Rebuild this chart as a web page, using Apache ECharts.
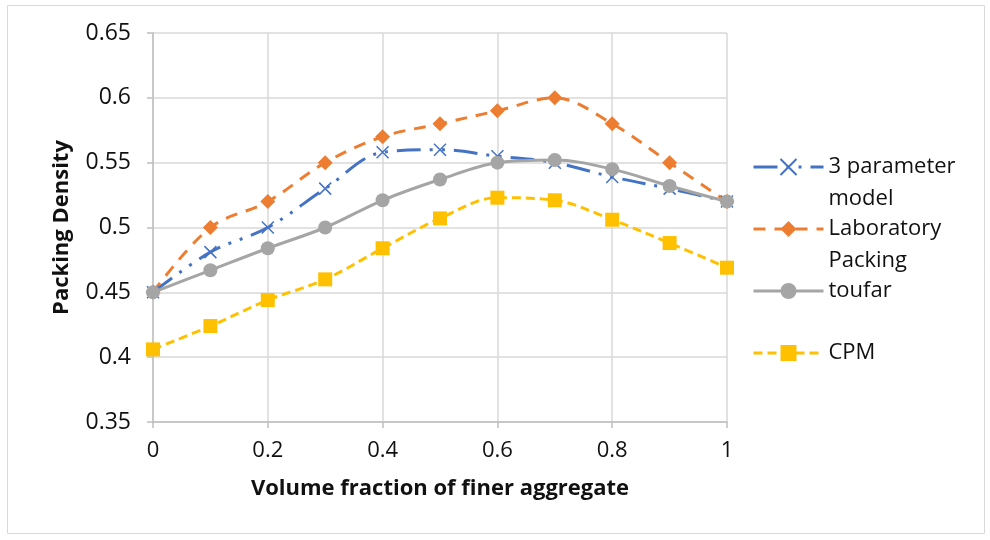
<!DOCTYPE html>
<html>
<head>
<meta charset="utf-8">
<script src="https://cdn.jsdelivr.net/npm/echarts@6/dist/echarts.min.js"></script>
<style>
  html, body { margin: 0; padding: 0; background: #fff; }
  #canvas { width: 990px; height: 540px; }
</style>
</head>
<body>
<div id="canvas"></div>
<script>
// volume fraction of finer aggregate
var fractions = [0, 0.1, 0.2, 0.3, 0.4, 0.5, 0.6, 0.7, 0.8, 0.9, 1];
var threeParam = [0.45, 0.481, 0.50, 0.53, 0.558, 0.56, 0.555, 0.55, 0.539, 0.53, 0.52];
var laboratory = [0.45, 0.50, 0.52, 0.55, 0.57, 0.58, 0.59, 0.60, 0.58, 0.55, 0.52];
var toufar = [0.45, 0.467, 0.484, 0.50, 0.521, 0.537, 0.55, 0.552, 0.545, 0.532, 0.52];
var cpm = [0.406, 0.424, 0.444, 0.46, 0.484, 0.507, 0.523, 0.521, 0.506, 0.488, 0.469];
var seriesNames = ['3 parameter model', 'Laboratory Packing', 'toufar', 'CPM'];
// legend text wraps like the original; blank first line keeps the first word level with the icon
var legendText = {
    '3 parameter model': ' \n3 parameter\nmodel',
    'Laboratory Packing': ' \nLaboratory\nPacking',
    'toufar': ' \ntoufar\n ',
    'CPM': ' \nCPM\n '
};

function pairs(ys){
    var out = [];
    for(var i=0;i<fractions.length;i++){
        out.push([fractions[i], ys[i]]);
    }
    return out;
}

var font = '"Open Sans", "Liberation Sans", sans-serif';
var myChart = echarts.init(document.getElementById('canvas'));

myChart.setOption({
    backgroundColor: '#fff',
    animation: false,
    textStyle: { fontFamily: font },
    graphic: [{
        type: 'rect',
        shape: { x: 7.5, y: 5.5, width: 977, height: 528 },
        style: { fill: 'none', stroke: '#d9d9d9', lineWidth: 1 },
        silent: true
    }],
    grid: { left: 153, right: 263, top: 33, bottom: 118 },
    legend: {
        orient: 'vertical',
        left: 747,
        top: 114,
        itemWidth: 70,
        itemHeight: 20,
        itemGap: -34,
        data: seriesNames,
        lineStyle: { width: 3 },
        formatter: function(name){ return legendText[name]; },
        textStyle: {
            fontFamily: font,
            fontSize: 22,
            color: '#111',
            lineHeight: 32
        }
    },
    xAxis: {
        type: 'value',
        min: 0,
        max: 1,
        interval: 0.2,
        name: 'Volume fraction of finer aggregate',
        nameLocation: 'middle',
        nameGap: 56,
        nameTextStyle: { fontFamily: font, fontSize: 22, fontWeight: 'bold', color: '#111' },
        axisLine: { lineStyle: { color: '#bfbfbf', width: 1.5 } },
        axisTick: { show: true, length: 6, lineStyle: { color: '#bfbfbf', width: 1.5 } },
        axisLabel: { fontFamily: font, fontSize: 22, color: '#111', margin: 18 },
        splitLine: { show: true, lineStyle: { color: '#d9d9d9', width: 1.5 } }
    },
    yAxis: {
        type: 'value',
        min: 0.35,
        max: 0.65,
        interval: 0.05,
        name: 'Packing Density',
        nameLocation: 'middle',
        nameGap: 80,
        nameTextStyle: { fontFamily: font, fontSize: 22, fontWeight: 'bold', color: '#111' },
        axisLine: { show: true, lineStyle: { color: '#bfbfbf', width: 1.5 } },
        axisTick: { show: true, length: 6, lineStyle: { color: '#bfbfbf', width: 1.5 } },
        axisLabel: { fontFamily: font, fontSize: 23, color: '#111', margin: 22 },
        splitLine: { show: true, lineStyle: { color: '#d9d9d9', width: 1.5 } }
    },
    series: [
        {
            name: seriesNames[0],
            type: 'line',
            smooth: 0.35,
            data: pairs(threeParam),
            symbol: 'path://M0,0L10,10M10,0L0,10',
            symbolSize: 12,
            itemStyle: { color: '#4472c4', borderColor: '#4472c4', borderWidth: 1.5 },
            lineStyle: { color: '#4472c4', width: 3, type: [24, 9, 3, 9, 3, 9] }
        },
        {
            name: seriesNames[1],
            type: 'line',
            smooth: 0.35,
            data: pairs(laboratory),
            symbol: 'diamond',
            symbolSize: 15,
            itemStyle: { color: '#ed7d31' },
            lineStyle: { color: '#ed7d31', width: 3, type: [12, 9] }
        },
        {
            name: seriesNames[2],
            type: 'line',
            smooth: 0.35,
            data: pairs(toufar),
            symbol: 'circle',
            symbolSize: 14,
            itemStyle: { color: '#a5a5a5' },
            lineStyle: { color: '#a5a5a5', width: 3, type: 'solid' }
        },
        {
            name: seriesNames[3],
            type: 'line',
            smooth: 0.35,
            data: pairs(cpm),
            symbol: 'rect',
            symbolSize: 14,
            itemStyle: { color: '#ffc000' },
            lineStyle: { color: '#ffc000', width: 3, type: [9, 5] }
        }
    ]
});
</script>
</body>
</html>
